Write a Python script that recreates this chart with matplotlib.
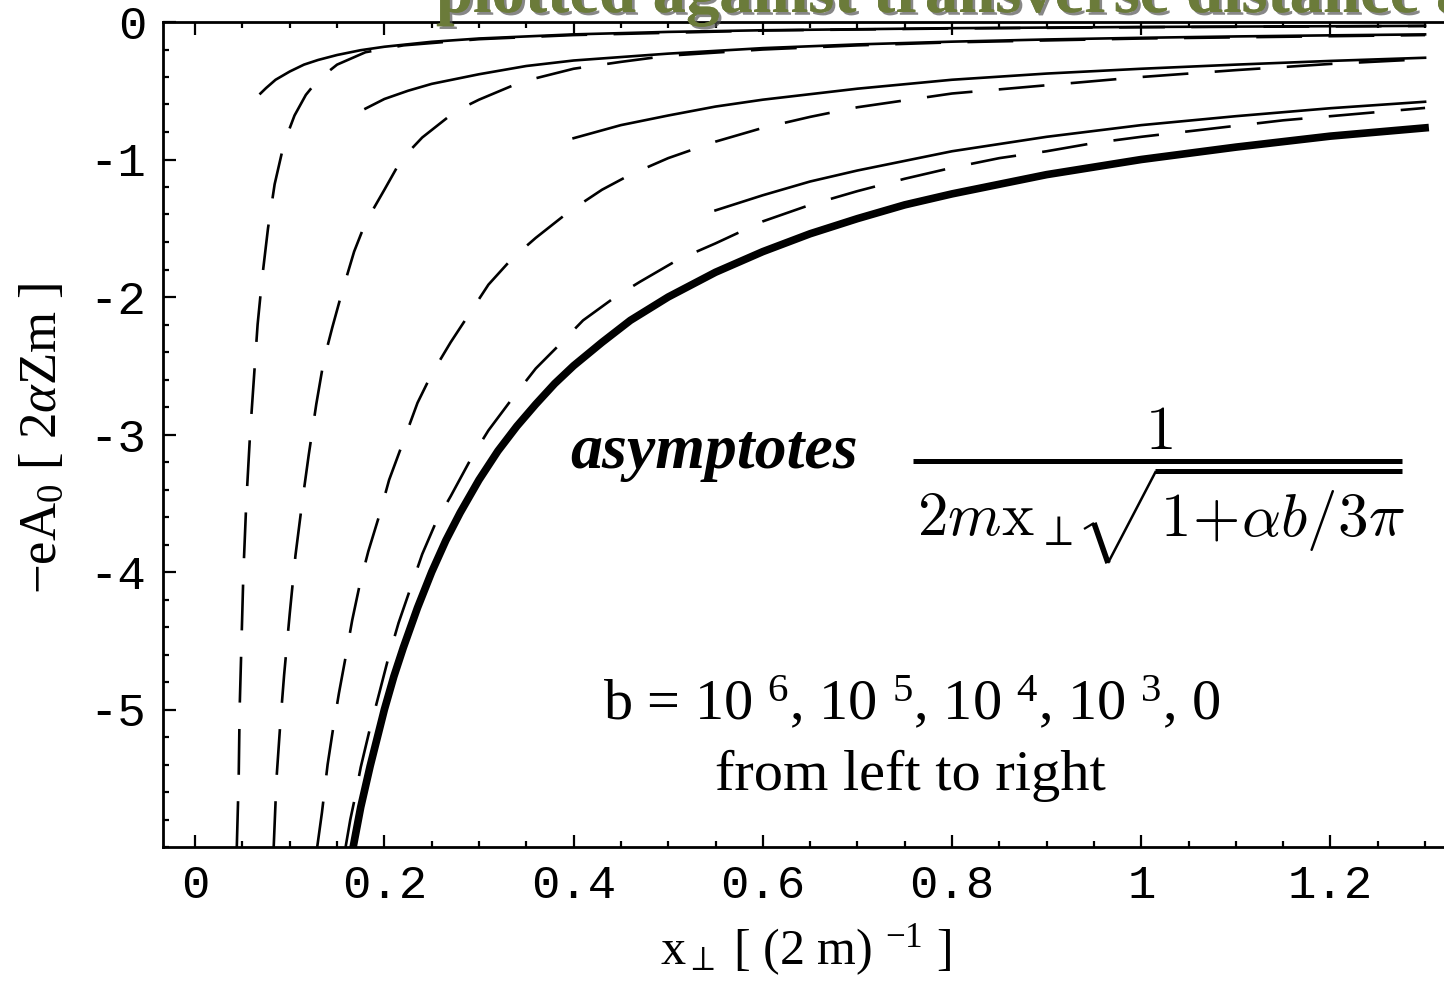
import matplotlib
matplotlib.use("Agg")
import matplotlib.pyplot as plt
import matplotlib.patheffects as pe
from matplotlib.lines import Line2D
from matplotlib.ticker import MultipleLocator

plt.rcParams['mathtext.fontset'] = 'custom'
plt.rcParams['mathtext.rm'] = 'Liberation Serif'
plt.rcParams['mathtext.it'] = 'Liberation Serif:italic'
plt.rcParams['mathtext.bf'] = 'Liberation Serif:bold'
plt.rcParams['axes.unicode_minus'] = False
plt.rcParams['lines.scale_dashes'] = False

# b = 0 potential (thick line)
x_b0 = [0.167, 0.175, 0.185, 0.2, 0.21, 0.22, 0.235, 0.25, 0.265, 0.28, 0.3,
        0.32, 0.34, 0.36, 0.38, 0.4, 0.43, 0.46, 0.5, 0.55, 0.6, 0.65, 0.7,
        0.75, 0.8, 0.9, 1.0, 1.1, 1.2, 1.3]
y_b0 = [-6.0, -5.71, -5.41, -5.0, -4.76, -4.55, -4.26, -4.0, -3.77, -3.57,
        -3.33, -3.12, -2.94, -2.78, -2.63, -2.5, -2.33, -2.17, -2.0, -1.82,
        -1.67, -1.54, -1.43, -1.33, -1.25, -1.11, -1.0, -0.91, -0.83, -0.77]

# potentials for b = 1e6, 1e5, 1e4, 1e3 (dashed)
x_d6 = [0.044, 0.046, 0.047, 0.049, 0.051, 0.054, 0.058, 0.062, 0.066, 0.071,
        0.077, 0.084, 0.094, 0.105, 0.117, 0.13, 0.15, 0.18, 0.22, 0.3, 0.4,
        0.6, 0.8, 1.0, 1.3]
y_d6 = [-6.0, -5.5, -5.0, -4.5, -4.0, -3.5, -3.0, -2.6, -2.2, -1.85, -1.5,
        -1.18, -0.88, -0.68, -0.53, -0.42, -0.31, -0.22, -0.17, -0.125, -0.095,
        -0.062, -0.047, -0.038, -0.029]

x_d5 = [0.083, 0.086, 0.09, 0.094, 0.1, 0.106, 0.113, 0.12, 0.128, 0.136,
        0.145, 0.155, 0.168, 0.18, 0.2, 0.218, 0.24, 0.275, 0.3, 0.345, 0.4,
        0.45, 0.5, 0.6, 0.7, 0.8, 1.0, 1.3]
y_d5 = [-6.0, -5.5, -5.1, -4.75, -4.3, -3.88, -3.5, -3.15, -2.78, -2.46,
        -2.22, -1.97, -1.67, -1.46, -1.22, -1.0, -0.84, -0.65, -0.565, -0.435,
        -0.34, -0.29, -0.245, -0.2, -0.17, -0.148, -0.12, -0.095]

x_d4 = [0.129, 0.134, 0.14, 0.146, 0.152, 0.159, 0.166, 0.174, 0.183, 0.195,
        0.205, 0.219, 0.235, 0.25, 0.27, 0.29, 0.31, 0.335, 0.36, 0.395, 0.43,
        0.46, 0.5, 0.55, 0.6, 0.65, 0.7, 0.75, 0.8, 0.9, 1.0, 1.1, 1.2, 1.3]
y_d4 = [-6.0, -5.75, -5.4, -5.13, -4.88, -4.62, -4.35, -4.09, -3.85, -3.58,
        -3.33, -3.07, -2.77, -2.56, -2.33, -2.12, -1.91, -1.72, -1.57, -1.38,
        -1.22, -1.11, -0.99, -0.87, -0.77, -0.69, -0.62, -0.57, -0.52, -0.46,
        -0.40, -0.35, -0.305, -0.27]

x_d3 = [0.159, 0.164, 0.168, 0.175, 0.184, 0.195, 0.204, 0.215, 0.227, 0.24,
        0.255, 0.27, 0.292, 0.31, 0.335, 0.36, 0.386, 0.41, 0.444, 0.47, 0.51,
        0.55, 0.6, 0.65, 0.7, 0.75, 0.8, 0.85, 0.9, 0.95, 1.0, 1.05, 1.1, 1.15,
        1.2, 1.25, 1.3]
y_d3 = [-6.0, -5.8, -5.67, -5.42, -5.16, -4.87, -4.63, -4.37, -4.13, -3.87,
        -3.63, -3.45, -3.17, -2.97, -2.74, -2.52, -2.34, -2.17, -2.0, -1.89,
        -1.73, -1.61, -1.45, -1.33, -1.23, -1.14, -1.06, -0.99, -0.94, -0.88,
        -0.835, -0.795, -0.755, -0.715, -0.685, -0.655, -0.625]

# asymptotes (thin solid)
x_a6 = [0.069, 0.075, 0.085, 0.1, 0.115, 0.13, 0.15, 0.175, 0.2, 0.25, 0.3,
        0.4, 0.5, 0.6, 0.8, 1.0, 1.3]
y_a6 = [-0.52, -0.48, -0.42, -0.36, -0.31, -0.276, -0.24, -0.205, -0.18,
        -0.144, -0.12, -0.09, -0.072, -0.06, -0.045, -0.036, -0.028]

x_a5 = [0.18, 0.2, 0.225, 0.25, 0.3, 0.35, 0.4, 0.5, 0.6, 0.7, 0.8, 0.9, 1.0,
        1.1, 1.2, 1.3]
y_a5 = [-0.63, -0.56, -0.50, -0.45, -0.38, -0.32, -0.28, -0.23, -0.19, -0.163,
        -0.143, -0.127, -0.115, -0.105, -0.097, -0.09]

x_a4 = [0.4, 0.45, 0.5, 0.55, 0.6, 0.7, 0.8, 0.9, 1.0, 1.1, 1.2, 1.3]
y_a4 = [-0.845, -0.75, -0.68, -0.615, -0.565, -0.485, -0.42, -0.375, -0.34,
        -0.31, -0.283, -0.26]

x_a3 = [0.55, 0.6, 0.65, 0.7, 0.8, 0.9, 1.0, 1.1, 1.2, 1.3]
y_a3 = [-1.37, -1.26, -1.16, -1.08, -0.94, -0.835, -0.75, -0.685, -0.627, -0.58]

x_ticks = [0, 0.2, 0.4, 0.6, 0.8, 1.0, 1.2]
x_ticklabels = ['0', '0.2', '0.4', '0.6', '0.8', '1', '1.2']
y_ticks = [0, -1, -2, -3, -4, -5]
y_ticklabels = ['0', '-1', '-2', '-3', '-4', '-5']

W, H = 1444, 981
fig = plt.figure(figsize=(W / 100, H / 100), dpi=100)


def fpos(px, py):
    return px / W, 1 - py / H


ax = fig.add_axes([163 / W, 1 - 847 / H, 1 - 163 / W, (847 - 22) / H])
ax.set_xlim(-0.034, 1.32)
ax.set_ylim(-6.0, 0.0)

dash = (0, (33, 19))
thin = 1.9
for xs, ys in [(x_d6, y_d6), (x_d5, y_d5), (x_d4, y_d4), (x_d3, y_d3)]:
    ax.plot(xs, ys, color='black', lw=thin, linestyle=dash,
            dash_capstyle='butt', solid_joinstyle='round')
for xs, ys in [(x_a6, y_a6), (x_a5, y_a5), (x_a4, y_a4), (x_a3, y_a3)]:
    ax.plot(xs, ys, color='black', lw=thin, solid_joinstyle='round')
ax.plot(x_b0, y_b0, color='black', lw=5.5, solid_joinstyle='round')

for side in ['left', 'bottom', 'top']:
    ax.spines[side].set_linewidth(2.0)
ax.spines['right'].set_visible(False)

ax.set_xticks(x_ticks)
ax.set_xticklabels(x_ticklabels)
ax.set_yticks(y_ticks)
ax.set_yticklabels(y_ticklabels)
ax.xaxis.set_minor_locator(MultipleLocator(0.05))
ax.yaxis.set_minor_locator(MultipleLocator(0.2))
ax.tick_params(which='both', direction='in', top=True, right=False, width=1.6)
ax.tick_params(which='major', length=9, labelsize=34, pad=12)
ax.tick_params(which='minor', length=4.5)
for lab in ax.get_xticklabels() + ax.get_yticklabels():
    lab.set_fontfamily('Liberation Mono')

# axis labels
fig.text(*fpos(43, 438), '\u2212eA$_0$ [ 2$\\alpha$Zm ]', rotation=90,
         ha='center', va='center', fontsize=38, family='Liberation Serif')
fig.text(*fpos(805, 950), r'x$_\perp$ [ (2 m) $^{-1}$ ]',
         ha='center', va='center', fontsize=36, family='Liberation Serif')

# annotations
fig.text(*fpos(570, 468), 'asymptotes', ha='left', va='baseline',
         fontsize=46, family='Liberation Serif', style='italic', weight='bold')
fig.text(*fpos(912, 720), r'b = 10 $^6$, 10 $^5$, 10 $^4$, 10 $^3$, 0',
         ha='center', va='baseline', fontsize=42, family='Liberation Serif')
fig.text(*fpos(910, 790), 'from left to right',
         ha='center', va='baseline', fontsize=42, family='Liberation Serif')

# asymptote formula: numerator, bar, denominator with a hand-drawn radical
fig.text(*fpos(1159, 449), r'$1$', ha='center', va='baseline', fontsize=44,
         math_fontfamily='cm')
fig.text(*fpos(917, 536), r'$2m\mathrm{x}_{\perp}$',
         ha='left', va='baseline', fontsize=44, math_fontfamily='cm')
fig.text(*fpos(1160, 536), r'$1\!+\!\alpha b/3\pi$',
         ha='left', va='baseline', fontsize=44, math_fontfamily='cm')


def fig_line(pts, lw):
    xs = [p[0] / W for p in pts]
    ys = [1 - p[1] / H for p in pts]
    fig.add_artist(Line2D(xs, ys, transform=fig.transFigure, color='black',
                          lw=lw, solid_joinstyle='miter', solid_capstyle='butt'))


fig_line([(913, 461), (1402, 461)], 3.6)
fig_line([(1155, 471), (1402, 471)], 3.6)
fig_line([(1084, 529), (1094, 523)], 1.6)
fig_line([(1094, 523), (1108, 563)], 4.0)
fig_line([(1108, 563), (1156, 471)], 1.8)

# heading cut off at the top edge
fig.text(*fpos(436, 12), 'plotted against transverse distance at',
         ha='left', va='baseline', fontsize=48, family='Liberation Serif',
         weight='bold', color='#6b7b3a',
         path_effects=[pe.withSimplePatchShadow(offset=(2, -2),
                                                shadow_rgbFace='#555555',
                                                alpha=0.7), pe.Normal()])

fig.savefig('out.png', dpi=100)
